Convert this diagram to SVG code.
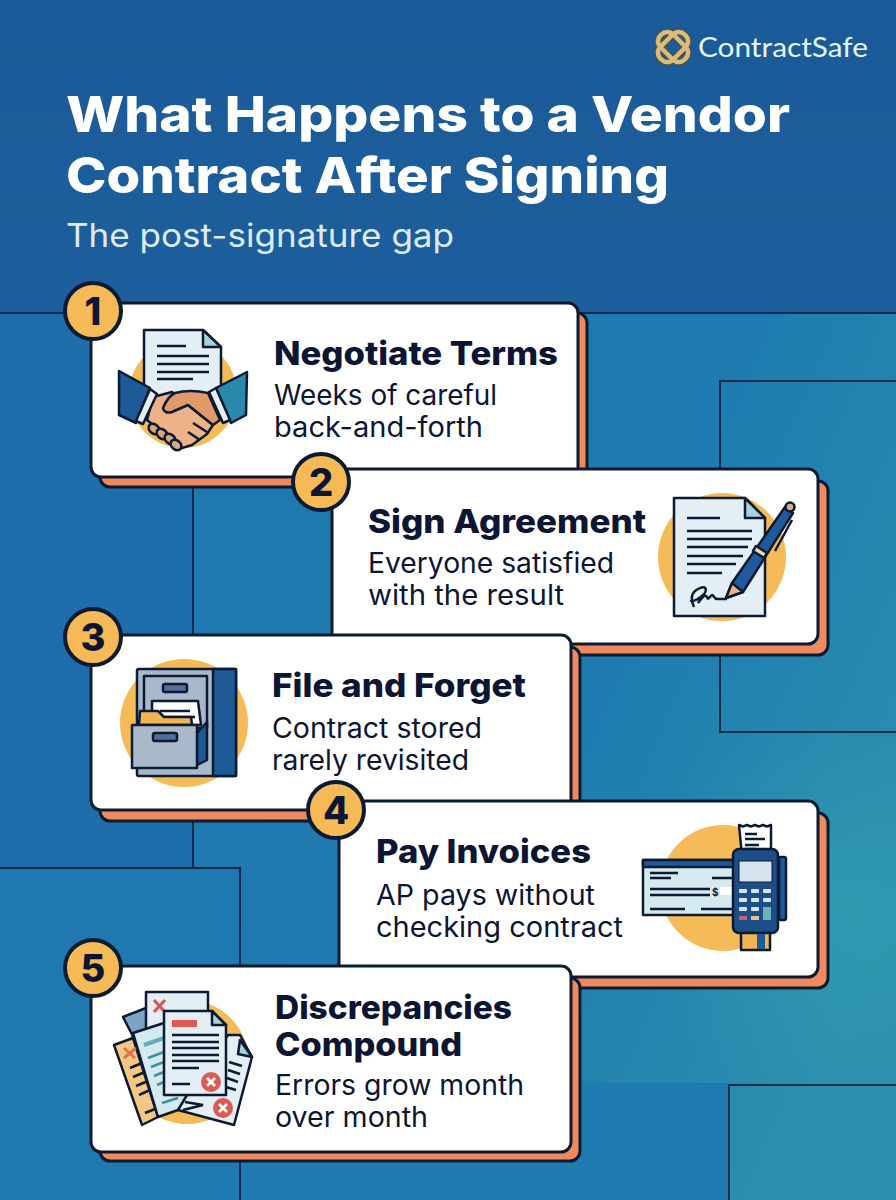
<svg xmlns="http://www.w3.org/2000/svg" width="896" height="1200" viewBox="0 0 896 1200">
<defs>
<linearGradient id="top" x1="0" y1="0" x2="0" y2="1"><stop offset="0" stop-color="#1a5a98"/><stop offset="1" stop-color="#1d5f9c"/></linearGradient>
<linearGradient id="right" gradientUnits="userSpaceOnUse" x1="193" y1="600" x2="896" y2="900"><stop offset="0" stop-color="#1f78ae"/><stop offset="0.55" stop-color="#1f7cb0"/><stop offset="1" stop-color="#2b8fae"/></linearGradient>
<radialGradient id="glow" cx="0.85" cy="0.5" r="0.6"><stop offset="0" stop-color="#35a0b0" stop-opacity="0.6"/><stop offset="1" stop-color="#35a0b0" stop-opacity="0"/></radialGradient>
<style>
text{font-family:Inter,"Liberation Sans",sans-serif}
.ttl{font-weight:800;font-size:50px;fill:#fff}
.h{font-weight:800;font-size:33px;fill:#0c1533}
.b{font-weight:400;font-size:28px;fill:#0c1533}
.num{font-weight:800;font-size:38px;fill:#0c1533;text-anchor:middle}
.card{fill:#fff;stroke:#0c1a33;stroke-width:3}
.sh{fill:#ef8a5e;stroke:#0c1a33;stroke-width:3}
.badge{fill:#f5b955;stroke:#0c1a33;stroke-width:4}
.sun{fill:#f4bb58}
.o{stroke:#0c1a33;stroke-width:2.5;stroke-linejoin:round;stroke-linecap:round}
.l{stroke:#0c1a33;stroke-width:2.5;fill:none;stroke-linecap:butt}
.t{stroke:#3f8f9f;stroke-width:2.5;fill:none}
.bgl{stroke:#0d2b4a;stroke-width:2;fill:none}
.x{stroke:#fff;stroke-width:2.8;fill:none}
.knot{fill:none;stroke:#d9bd7f;stroke-width:4.5}
.knotb{fill:none;stroke:#5e5237;stroke-width:6.5}
</style>
</defs>
<rect width="896" height="1200" fill="url(#right)"/>
<rect width="896" height="313" fill="url(#top)"/>
<g id="background">
<rect x="0" y="313" width="193" height="555" fill="#1d6eaa"/>
<rect x="560" y="732" width="336" height="355" fill="url(#glow)"/>
<rect x="720" y="381" width="190" height="351" fill="#2a8bab" class="bgl"/>
<rect x="-5" y="868" width="245" height="340" fill="#2e92ae" class="bgl"/>
<rect x="241" y="1083" width="488" height="120" fill="#1f7bb0"/>
<rect x="729" y="1085" width="180" height="120" fill="#2d92ae" class="bgl"/>
<path class="bgl" d="M0 313H90M578 313H896M193 480V868"/>
</g>
<g id="logo">
<rect class="knotb" x="664" y="30" width="18" height="34" rx="8" transform="rotate(45 673 47)"/>
<rect class="knotb" x="664" y="30" width="18" height="34" rx="8" transform="rotate(-45 673 47)"/>
<rect class="knot" x="664" y="30" width="18" height="34" rx="8" transform="rotate(45 673 47)"/>
<rect class="knot" x="664" y="30" width="18" height="34" rx="8" transform="rotate(-45 673 47)"/>
<text x="698" y="57" font-size="26" fill="#e6f6fb" style="font-family:Lato,'Noto Sans',sans-serif" textLength="170" lengthAdjust="spacingAndGlyphs">ContractSafe</text>
</g>
<g id="title">
<text class="ttl" x="66" y="132" textLength="724" lengthAdjust="spacingAndGlyphs">What Happens to a Vendor</text>
<text class="ttl" x="66" y="193" textLength="603" lengthAdjust="spacingAndGlyphs">Contract After Signing</text>
<text x="66" y="247" font-size="32" fill="#dcebf5" textLength="388" lengthAdjust="spacingAndGlyphs">The post-signature gap</text>
</g>
<g id="connectors"></g>
<g id="node-1">
<rect class="sh" x="100" y="313" width="487" height="174" rx="10"/>
<rect class="card" x="91" y="303" width="487" height="174" rx="10"/>
<circle class="sun" cx="183" cy="394" r="54"/>
<path d="M144 330H203L221 347V398H144z" fill="#e3eef5" class="o"/>
<path d="M203 330V347H221z" fill="#a6d2dd" class="o"/>
<path class="l" d="M157 346H186M157 356H209M157 364H209M157 372H209M157 379H193"/>
<path d="M153 397L172 392L188 405L213 425L207 434L192 445L182 448L147 420z" fill="#eeb288" class="o"/>
<path d="M163 408Q168 396 175 393Q190 389 208 393L220 420L213 425L188 405L172 412Q164 414 163 408z" fill="#df9a68" class="o"/>
<path class="l" d="M193 423L207 432M188 432L200 440"/>
<g fill="#dca67e" class="o"><ellipse cx="154" cy="429" rx="6" ry="4.5" transform="rotate(40 154 429)"/><ellipse cx="162" cy="434" rx="6" ry="4.5" transform="rotate(40 162 434)"/><ellipse cx="170" cy="439" rx="6" ry="4.5" transform="rotate(40 170 439)"/><ellipse cx="176" cy="445" rx="6" ry="4.5" transform="rotate(40 176 445)"/></g>
<path d="M119 371L150 388L136 423L119 415z" fill="#1e5a96" class="o"/>
<path d="M247 372L216 388L231 423L246 415z" fill="#2a88ac" class="o"/>
<path d="M150 389L157 394L143 424L136 421z" fill="#e3eef5" class="o"/>
<path d="M216 388L209 392L223 423L230 420z" fill="#e3eef5" class="o"/>
<text class="h" x="274" y="365" textLength="284" lengthAdjust="spacingAndGlyphs">Negotiate Terms</text>
<text class="b" x="274" y="405" textLength="223" lengthAdjust="spacingAndGlyphs">Weeks of careful</text>
<text class="b" x="274" y="437" textLength="209" lengthAdjust="spacingAndGlyphs">back-and-forth</text>
<circle class="badge" cx="93" cy="311" r="28"/><text class="num" x="93" y="325">1</text>
</g>
<g id="node-2">
<rect class="sh" x="341" y="481" width="487" height="174" rx="10"/>
<rect class="card" x="332" y="469" width="486" height="175" rx="10"/>
<circle class="sun" cx="722" cy="557" r="64"/>
<path d="M674 498H745L765 518V616H674z" fill="#e3eef5" class="o"/>
<path d="M745 498V518H765z" fill="#a6d2dd" class="o"/>
<path class="l" d="M687 518H720M687 531H752M687 539H752M687 547H748M687 556H743M687 564H736M687 573H722"/>
<path d="M694 607C690 598 692 592 698 589C707 584 708 591 702 596C696 601 691 602 691 600M698 603C702 597 705 594 707 597C708 601 710 596 712 595C714 595 714 600 718 599H727" fill="none" stroke="#0c1a33" stroke-width="2.5"/>
<path d="M726 598L732 583L785 507L793 513L743 592z" fill="#1f5a9c" class="o"/>
<path d="M726 598L732 583L743 592z" fill="#eeb288" class="o"/>
<path d="M756 546L767 553L764 558L753 551z" fill="#f1d9a8" class="o"/>
<circle cx="790" cy="507" r="4.5" fill="#e0a98a" class="o"/>
<path d="M792 520L775 551" class="l"/>
<text class="h" x="368" y="533" textLength="278" lengthAdjust="spacingAndGlyphs">Sign Agreement</text>
<text class="b" x="368" y="573" textLength="246" lengthAdjust="spacingAndGlyphs">Everyone satisfied</text>
<text class="b" x="368" y="605" textLength="196" lengthAdjust="spacingAndGlyphs">with the result</text>
<circle class="badge" cx="321" cy="482" r="28"/><text class="num" x="321" y="496">2</text>
</g>
<g id="node-3">
<rect class="sh" x="100" y="647" width="480" height="174" rx="10"/>
<rect class="card" x="91" y="635" width="480" height="175" rx="10"/>
<circle class="sun" cx="184" cy="723" r="64"/>
<rect x="137" y="669" width="99" height="107" rx="2" fill="#a9b9c9" class="o"/>
<rect x="213" y="669" width="23" height="107" fill="#1e5a96" class="o"/>
<rect x="144" y="676" width="63" height="52" fill="#a9b9c9" class="o"/>
<rect x="163" y="684" width="24" height="8" rx="2" fill="#4f7199" class="o"/>
<path d="M152 701H198L201 725H152z" fill="#fff" class="o"/><path class="l" d="M160 711H190M160 717H195"/>
<path d="M139 725L140 711H158L164 717H191L192 725z" fill="#f0b552" class="o"/>
<path d="M197 733L207 722V760L197 765z" fill="#1e5a96" class="o"/>
<rect x="132" y="725" width="65" height="43" fill="#a9b9c9" class="o"/>
<rect x="153" y="733" width="24" height="8" rx="2" fill="#4f7199" class="o"/>
<text class="h" x="272" y="697" textLength="254" lengthAdjust="spacingAndGlyphs">File and Forget</text>
<text class="b" x="272" y="738" textLength="210" lengthAdjust="spacingAndGlyphs">Contract stored</text>
<text class="b" x="272" y="770" textLength="197" lengthAdjust="spacingAndGlyphs">rarely revisited</text>
<circle class="badge" cx="93" cy="637" r="28"/><text class="num" x="93" y="651">3</text>
</g>
<g id="node-4">
<rect class="sh" x="348" y="813" width="480" height="175" rx="10"/>
<rect class="card" x="339" y="801" width="479" height="176" rx="10"/>
<circle class="sun" cx="723" cy="888" r="63"/>
<rect x="643" y="860" width="92" height="55" fill="#d5eaee" class="o"/>
<rect x="643" y="860" width="92" height="7" fill="#1e5a96" class="o"/>
<path class="l" d="M650 873H678M650 878H671M650 889H710M650 895H710M650 909H685M701 909H733M712 878H733"/>
<rect x="720" y="887" width="13" height="8" fill="#fff"/>
<text x="712" y="896" font-size="10" font-weight="700" fill="#0c1a33">$</text>
<path d="M739 825l4 1.500 4-1.500 4 1.500 4-1.500 4 1.500 4-1.500 4 1.500 4-1.500V856H742z" fill="#fff" class="o"/><path class="l" d="M745 834h12M745 839h20M745 845h14M745 849h11"/>
<rect x="779" y="857" width="7" height="63" rx="2" fill="#1e5a96" class="o"/>
<rect x="733" y="849" width="45" height="84" rx="6" fill="#1c4f88" class="o"/>
<rect x="739" y="861" width="33" height="21" fill="#d5e4ee" stroke="#0c1a33"/>
<g fill="#d5e4ee"><rect x="739" y="889" width="8" height="4" rx="1"/><rect x="751" y="889" width="8" height="4" rx="1"/><rect x="763" y="889" width="8" height="4" rx="1"/><rect x="739" y="898" width="8" height="4" rx="1"/><rect x="751" y="898" width="8" height="4" rx="1"/><rect x="763" y="898" width="8" height="4" rx="1"/><rect x="739" y="907" width="8" height="4" rx="1"/><rect x="751" y="907" width="8" height="4" rx="1"/></g>
<rect x="739" y="916" width="8" height="4" fill="#c2607a"/><rect x="751" y="916" width="8" height="4" fill="#e3c08e"/><rect x="763" y="907" width="8" height="13" fill="#6fb2bb"/>
<rect x="741" y="933" width="29" height="17" fill="#f0b552" class="o"/><rect x="757" y="934" width="8" height="15" fill="#1e5a96"/>
<text class="h" x="376" y="863" textLength="215" lengthAdjust="spacingAndGlyphs">Pay Invoices</text>
<text class="b" x="376" y="905" textLength="219" lengthAdjust="spacingAndGlyphs">AP pays without</text>
<text class="b" x="376" y="937" textLength="247" lengthAdjust="spacingAndGlyphs">checking contract</text>
<circle class="badge" cx="336" cy="810" r="28"/><text class="num" x="336" y="824">4</text>
</g>
<g id="node-5">
<rect class="sh" x="100" y="978" width="480" height="183" rx="10"/>
<rect class="card" x="91" y="966" width="480" height="186" rx="10"/>
<circle class="sun" cx="187" cy="1062" r="62"/>
<path d="M123 1017L146 1008L165 1040L140 1050z" fill="#7aa5c7" class="o"/>
<rect x="146" y="992" width="62" height="55" fill="#e3eef5" class="o"/>
<path d="M154 1000L165 1012M165 1000L154 1012" fill="none" stroke="#d9534f" stroke-width="3"/>
<path d="M114 1045L133 1038L158 1117L142 1125z" fill="#f4c782" class="o"/>
<path d="M124 1048L135 1058M136 1048L124 1058" fill="none" stroke="#e0714e" stroke-width="3"/>
<path class="l" d="M130 1068L142 1063M133 1077L145 1072M136 1086L148 1081M139 1095L150 1090M145 1113L155 1109"/>
<path d="M133 1033L164 1023L190 1105L178 1110L158 1117z" fill="#d5eaee" class="o"/>
<path d="M144 1045L164 1038" stroke="#63adb6" stroke-width="4" fill="none"/>
<path class="t" d="M148 1058L164 1052M151 1067L164 1062M154 1076L164 1072M157 1085L164 1082M162 1103L178 1098"/>
<path d="M228 1035H240L252 1057L234 1125L178 1110L190 1090z" fill="#e3eef5" class="o"/>
<path d="M240 1040L238 1054L252 1057z" fill="#a6d2dd" class="o"/>
<path class="l" d="M229 1062L242 1066M228 1070L240 1074M227 1078L238 1082M226 1087L236 1090M185 1102L203 1105L183 1110"/>
<path d="M164 1011H212L226 1025V1095H164z" fill="#e3eef5" class="o"/>
<path d="M212 1011V1025H226z" fill="#a6d2dd" class="o"/>
<rect x="172" y="1020" width="25" height="7" fill="#e25a50"/>
<path class="l" d="M172 1035H219M172 1042H219M172 1048H219M172 1055H219M172 1061H219M172 1068H199M172 1084H190"/>
<circle cx="211" cy="1082" r="10" fill="#dc5a55"/><circle cx="223" cy="1108" r="10" fill="#dc5a55"/>
<path class="x" d="M207 1078L215 1086M215 1078L207 1086M219 1104L227 1112M227 1104L219 1112"/>
<text class="h" x="275" y="1019" textLength="237" lengthAdjust="spacingAndGlyphs">Discrepancies</text>
<text class="h" x="275" y="1056" textLength="187" lengthAdjust="spacingAndGlyphs">Compound</text>
<text class="b" x="275" y="1095" textLength="249" lengthAdjust="spacingAndGlyphs">Errors grow month</text>
<text class="b" x="275" y="1127" textLength="153" lengthAdjust="spacingAndGlyphs">over month</text>
<circle class="badge" cx="93" cy="968" r="28"/><text class="num" x="93" y="982">5</text>
</g>
</svg>
